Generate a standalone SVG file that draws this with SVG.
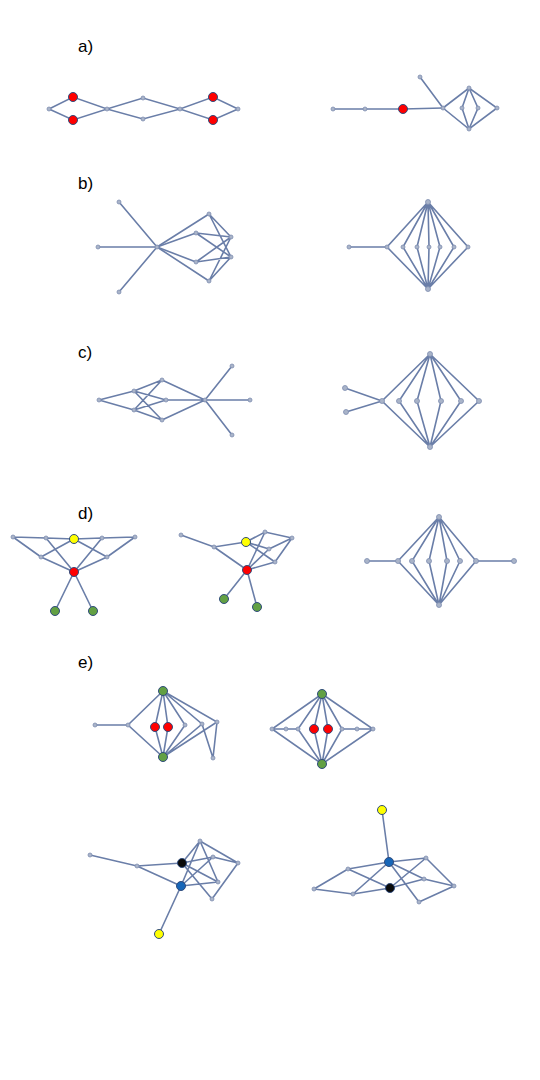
<svg xmlns="http://www.w3.org/2000/svg" width="540" height="1080" viewBox="0 0 540 1080">
<style>
.bg{fill:#fff}
.lbl{font-family:"Liberation Sans",Arial,sans-serif;font-size:17px;fill:#000}
.e{stroke:#6a7ea8;stroke-width:1.6;fill:none;stroke-linecap:round}
.n{fill:#a9b4c9;stroke:#7e8db0;stroke-width:0.8}
.c{stroke:#2f4b7c;stroke-width:1}
.red{fill:#ff0000}
.yel{fill:#ffff00}
.grn{fill:#62a043}
.blu{fill:#1766b8}
.blk{fill:#0a0a0a}
</style>
<rect class="bg" x="0" y="0" width="540" height="1080"/>
<g id="labels">
<text class="lbl" x="78" y="52">a)</text>
<text class="lbl" x="78" y="189">b)</text>
<text class="lbl" x="78" y="358">c)</text>
<text class="lbl" x="78" y="519">d)</text>
<text class="lbl" x="78" y="668">e)</text>
</g>
<g id="connectors">
<!-- a left -->
<polyline class="e" points="49,109 73,97 107,109 143,98 180,109 213,97 238,109"/>
<polyline class="e" points="49,109 73,120 107,109 143,119 180,109 213,120 238,109"/>
<!-- a right -->
<polyline class="e" points="333,109 365,109 403,109 443,108"/>
<line class="e" x1="443" y1="108" x2="420" y2="77"/>
<polyline class="e" points="443,108 469,88 497,108 469,129 443,108"/>
<polyline class="e" points="469,88 462,108 469,129"/>
<polyline class="e" points="469,88 478,108 469,129"/>
<!-- b left -->
<line class="e" x1="157" y1="247" x2="119" y2="202"/>
<line class="e" x1="157" y1="247" x2="98" y2="247"/>
<line class="e" x1="157" y1="247" x2="119" y2="292"/>
<line class="e" x1="157" y1="247" x2="209" y2="214"/>
<line class="e" x1="157" y1="247" x2="196" y2="233"/>
<line class="e" x1="157" y1="247" x2="196" y2="262"/>
<line class="e" x1="157" y1="247" x2="209" y2="281"/>
<path class="e" d="M209,214L231,237M209,214L231,257M196,233L231,237M196,233L231,257M196,262L231,237M196,262L231,257M209,281L231,237M209,281L231,257"/>
<!-- b right -->
<line class="e" x1="349" y1="247" x2="387" y2="247"/>
<path class="e" d="M428,202L387,247L428,289M428,202L403,247L428,289M428,202L417,247L428,289M428,202L429,247L428,289M428,202L440,247L428,289M428,202L454,247L428,289M428,202L468,247L428,289"/>
<!-- c left -->
<path class="e" d="M99,400L134,391M99,400L134,410M134,391L162,380M134,391L166,400M134,391L162,420M134,410L162,380M134,410L166,400M134,410L162,420M162,380L205,400M166,400L205,400M162,420L205,400M205,400L232,366M205,400L250,400M205,400L232,435"/>
<!-- c right -->
<path class="e" d="M345,388L382,401M346,412L382,401M430,354L382,401L430,447M430,354L399,401L430,447M430,354L417,401L430,447M430,354L441,401L430,447M430,354L461,401L430,447M430,354L479,401L430,447"/>
<!-- d left -->
<path class="e" d="M13,537L46,538L74,539L102,538L135,537M13,537L41,557M135,537L107,557M74,539L41,557M74,539L107,557M46,538L74,572M102,538L74,572M41,557L74,572M107,557L74,572M74,572L55,611M74,572L93,611"/>
<!-- d middle -->
<path class="e" d="M181,535L214,547L246,542M214,547L247,570M246,542L265,532L292,538M246,542L269,549M246,542L275,562M265,532L247,570M292,538L269,549M292,538L275,562M275,562L247,570M269,549L247,570M247,570L224,599M247,570L257,607"/>
<!-- d right -->
<path class="e" d="M367,561L398,561M476,561L514,561M439,517L398,561L439,605M439,517L412,561L439,605M439,517L429,561L439,605M439,517L447,561L439,605M439,517L460,561L439,605M439,517L476,561L439,605"/>
<!-- e top left -->
<path class="e" d="M95,725L128,725M163,691L128,725L163,757M163,691L155,727L163,757M163,691L168,727L163,757M163,691L185,725L163,757M163,691L202,724L163,757M163,691L217,722L163,757M202,724L213,758M217,722L213,758"/>
<!-- e top right -->
<path class="e" d="M322,694L272,729L322,764M272,729L286,729L298,729M322,694L298,729L322,764M322,694L314,729L322,764M322,694L328,729L322,764M322,694L342,729L322,764M342,729L357,729L373,729M322,694L373,729L322,764"/>
<!-- e bottom left -->
<path class="e" d="M90,855L137,866L182,863M137,866L181,886M181,886L159,934M182,863L200,841M182,863L213,857M182,863L218,882M182,863L212,899M181,886L200,841M181,886L213,857M181,886L218,882M200,841L238,863M213,857L238,863M238,863L212,899M200,841L218,882"/>
<!-- e bottom right -->
<path class="e" d="M382,810L389,862M314,889L348,869M314,889L353,894M348,869L389,862M348,869L390,888M353,894L389,862M353,894L390,888M389,862L426,858M389,862L424,879M389,862L419,902M390,888L426,858M390,888L424,879M426,858L454,886M424,879L454,886M419,902L454,886"/>
</g>
<g id="nodes">
<g id="a1"><circle class="n" cx="49" cy="109" r="2"/><circle class="n" cx="107" cy="109" r="2"/><circle class="n" cx="143" cy="98" r="2"/><circle class="n" cx="143" cy="119" r="2"/><circle class="n" cx="180" cy="109" r="2"/><circle class="n" cx="238" cy="109" r="2"/>
<circle class="c red" cx="73" cy="97" r="4.5"/><circle class="c red" cx="73" cy="120" r="4.5"/><circle class="c red" cx="213" cy="97" r="4.5"/><circle class="c red" cx="213" cy="120" r="4.5"/></g>
<g id="a2"><circle class="n" cx="333" cy="109" r="2"/><circle class="n" cx="365" cy="109" r="2"/><circle class="n" cx="443" cy="108" r="2"/><circle class="n" cx="420" cy="77" r="2"/><circle class="n" cx="469" cy="88" r="2"/><circle class="n" cx="462" cy="108" r="2"/><circle class="n" cx="478" cy="108" r="2"/><circle class="n" cx="497" cy="108" r="2"/><circle class="n" cx="469" cy="129" r="2"/>
<circle class="c red" cx="403" cy="109" r="4.5"/></g>
<g id="b1"><circle class="n" cx="119" cy="202" r="2"/><circle class="n" cx="98" cy="247" r="2"/><circle class="n" cx="119" cy="292" r="2"/><circle class="n" cx="157" cy="247" r="2"/><circle class="n" cx="209" cy="214" r="2"/><circle class="n" cx="196" cy="233" r="2"/><circle class="n" cx="196" cy="262" r="2"/><circle class="n" cx="209" cy="281" r="2"/><circle class="n" cx="231" cy="237" r="2"/><circle class="n" cx="231" cy="257" r="2"/></g>
<g id="b2"><circle class="n" cx="349" cy="247" r="2"/><circle class="n" cx="387" cy="247" r="2"/><circle class="n" cx="428" cy="202" r="2.5"/><circle class="n" cx="428" cy="289" r="2.5"/><circle class="n" cx="403" cy="247" r="2"/><circle class="n" cx="417" cy="247" r="2"/><circle class="n" cx="429" cy="247" r="2"/><circle class="n" cx="440" cy="247" r="2"/><circle class="n" cx="454" cy="247" r="2"/><circle class="n" cx="468" cy="247" r="2"/></g>
<g id="c1"><circle class="n" cx="99" cy="400" r="2"/><circle class="n" cx="134" cy="391" r="2"/><circle class="n" cx="134" cy="410" r="2"/><circle class="n" cx="162" cy="380" r="2"/><circle class="n" cx="166" cy="400" r="2"/><circle class="n" cx="162" cy="420" r="2"/><circle class="n" cx="205" cy="400" r="2"/><circle class="n" cx="232" cy="366" r="2"/><circle class="n" cx="250" cy="400" r="2"/><circle class="n" cx="232" cy="435" r="2"/></g>
<g id="c2"><circle class="n" cx="345" cy="388" r="2.5"/><circle class="n" cx="346" cy="412" r="2.5"/><circle class="n" cx="382" cy="401" r="2.5"/><circle class="n" cx="430" cy="354" r="2.5"/><circle class="n" cx="430" cy="447" r="2.5"/><circle class="n" cx="399" cy="401" r="2.5"/><circle class="n" cx="417" cy="401" r="2.5"/><circle class="n" cx="441" cy="401" r="2.5"/><circle class="n" cx="461" cy="401" r="2.5"/><circle class="n" cx="479" cy="401" r="2.5"/></g>
<g id="d1"><circle class="n" cx="13" cy="537" r="2"/><circle class="n" cx="46" cy="538" r="2"/><circle class="n" cx="102" cy="538" r="2"/><circle class="n" cx="135" cy="537" r="2"/><circle class="n" cx="41" cy="557" r="2"/><circle class="n" cx="107" cy="557" r="2"/>
<circle class="c yel" cx="74" cy="539" r="4.5"/><circle class="c red" cx="74" cy="572" r="4.5"/><circle class="c grn" cx="55" cy="611" r="4.5"/><circle class="c grn" cx="93" cy="611" r="4.5"/></g>
<g id="d2"><circle class="n" cx="181" cy="535" r="2"/><circle class="n" cx="214" cy="547" r="2"/><circle class="n" cx="265" cy="532" r="2"/><circle class="n" cx="292" cy="538" r="2"/><circle class="n" cx="269" cy="549" r="2"/><circle class="n" cx="275" cy="562" r="2"/>
<circle class="c yel" cx="246" cy="542" r="4.5"/><circle class="c red" cx="247" cy="570" r="4.5"/><circle class="c grn" cx="224" cy="599" r="4.5"/><circle class="c grn" cx="257" cy="607" r="4.5"/></g>
<g id="d3"><circle class="n" cx="367" cy="561" r="2.5"/><circle class="n" cx="398" cy="561" r="2.5"/><circle class="n" cx="439" cy="517" r="2.5"/><circle class="n" cx="439" cy="605" r="2.5"/><circle class="n" cx="412" cy="561" r="2.5"/><circle class="n" cx="429" cy="561" r="2.5"/><circle class="n" cx="447" cy="561" r="2.5"/><circle class="n" cx="460" cy="561" r="2.5"/><circle class="n" cx="476" cy="561" r="2.5"/><circle class="n" cx="514" cy="561" r="2.5"/></g>
<g id="e1"><circle class="n" cx="95" cy="725" r="2"/><circle class="n" cx="128" cy="725" r="2"/><circle class="n" cx="185" cy="725" r="2"/><circle class="n" cx="202" cy="724" r="2"/><circle class="n" cx="217" cy="722" r="2"/><circle class="n" cx="213" cy="758" r="2"/>
<circle class="c grn" cx="163" cy="691" r="4.5"/><circle class="c grn" cx="163" cy="757" r="4.5"/><circle class="c red" cx="155" cy="727" r="4.5"/><circle class="c red" cx="168" cy="727" r="4.5"/></g>
<g id="e2"><circle class="n" cx="272" cy="729" r="2"/><circle class="n" cx="286" cy="729" r="2"/><circle class="n" cx="298" cy="729" r="2"/><circle class="n" cx="342" cy="729" r="2"/><circle class="n" cx="357" cy="729" r="2"/><circle class="n" cx="373" cy="729" r="2"/>
<circle class="c grn" cx="322" cy="694" r="4.5"/><circle class="c grn" cx="322" cy="764" r="4.5"/><circle class="c red" cx="314" cy="729" r="4.5"/><circle class="c red" cx="328" cy="729" r="4.5"/></g>
<g id="e3"><circle class="n" cx="90" cy="855" r="2"/><circle class="n" cx="137" cy="866" r="2"/><circle class="n" cx="200" cy="841" r="2"/><circle class="n" cx="213" cy="857" r="2"/><circle class="n" cx="238" cy="863" r="2"/><circle class="n" cx="218" cy="882" r="2"/><circle class="n" cx="212" cy="899" r="2"/>
<circle class="c blk" cx="182" cy="863" r="4.5"/><circle class="c blu" cx="181" cy="886" r="4.5"/><circle class="c yel" cx="159" cy="934" r="4.5"/></g>
<g id="e4"><circle class="n" cx="314" cy="889" r="2"/><circle class="n" cx="348" cy="869" r="2"/><circle class="n" cx="353" cy="894" r="2"/><circle class="n" cx="426" cy="858" r="2"/><circle class="n" cx="424" cy="879" r="2"/><circle class="n" cx="419" cy="902" r="2"/><circle class="n" cx="454" cy="886" r="2"/>
<circle class="c yel" cx="382" cy="810" r="4.5"/><circle class="c blu" cx="389" cy="862" r="4.5"/><circle class="c blk" cx="390" cy="888" r="4.5"/></g>
</g>
</svg>
